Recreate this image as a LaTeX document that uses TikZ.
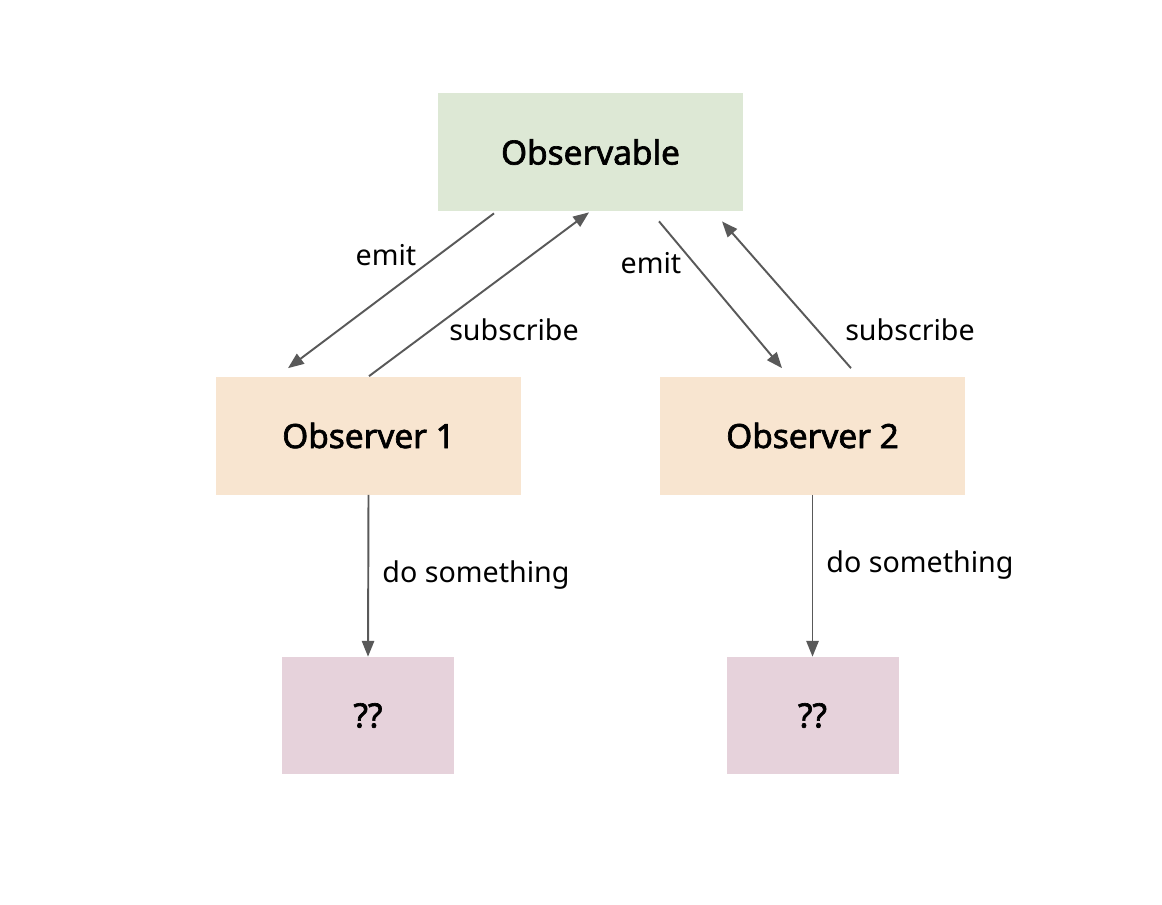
\documentclass[tikz,border=0pt]{standalone}
\usepackage{fontspec}
\setmainfont{Noto Sans}
\newfontfamily\boxfont{Noto Sans}[FakeBold=2]
\usetikzlibrary{arrows.meta,calc}
\definecolor{obsgreen}{HTML}{DDE8D5}
\definecolor{obsorange}{HTML}{F8E5D0}
\definecolor{obspink}{HTML}{E6D2DB}
\definecolor{arrowgray}{HTML}{595959}
\tikzset{
  box/.style={minimum width=305*0.02cm, minimum height=118*0.02cm, inner sep=0pt,
    font=\fontsize{19}{22}\boxfont},
  smallbox/.style={box, minimum width=172*0.02cm, minimum height=117*0.02cm},
  link/.style={draw=arrowgray, line width=1.1pt, -{Triangle[length=9pt,width=7pt]}},
  lbl/.style={font=\fontsize{16.3}{19}\selectfont, inner sep=0pt}
}
\begin{document}
\begin{tikzpicture}[x=0.02cm, y=-0.02cm]
  \useasboundingbox (0,0) rectangle (1162,904);
  % boxes
  \node [box, fill=obsgreen] (observable) at (590.5,152) {Observable};
  \node [box, fill=obsorange] (observer1) at (368.5,435.5) {Observer 1};
  \node [box, fill=obsorange] (observer2) at (812.5,435.5) {Observer 2};
  \node [smallbox, fill=obspink] (result1) at (368,715.5) {??};
  \node [smallbox, fill=obspink] (result2) at (812.5,715.5) {??};
  % observer 1
  \draw [link] ($(observable.south)+(-96.5,2)$) -- ($(observer1.north)+(-80.5,-8)$);
  \draw [link] ($(observer1.north)+(0.5,0)$) -- ($(observable.south)+(-1.5,1)$);
  % observer 2
  \draw [link] ($(observable.south)+(68.5,10)$) -- ($(observer2.north)+(-30.5,-8)$);
  \draw [link] ($(observer2.north)+(38.5,-8)$) -- ($(observable.south)+(131.5,10)$);
  % do something
  \draw [link] (observer1.south) -- (result1.north);
  \draw [link] (observer2.south) -- (result2.north);
  % labels
  \node [lbl] (emit1) at (386,255) {emit};
  \node [lbl] (sub1) at (514,330) {subscribe};
  \node [lbl] (emit2) at (651,263) {emit};
  \node [lbl] (sub2) at (910,330) {subscribe};
  \node [lbl] (do1) at (476,575) {do something};
  \node [lbl] (do2) at (920,565) {do something};
\end{tikzpicture}
\end{document}
